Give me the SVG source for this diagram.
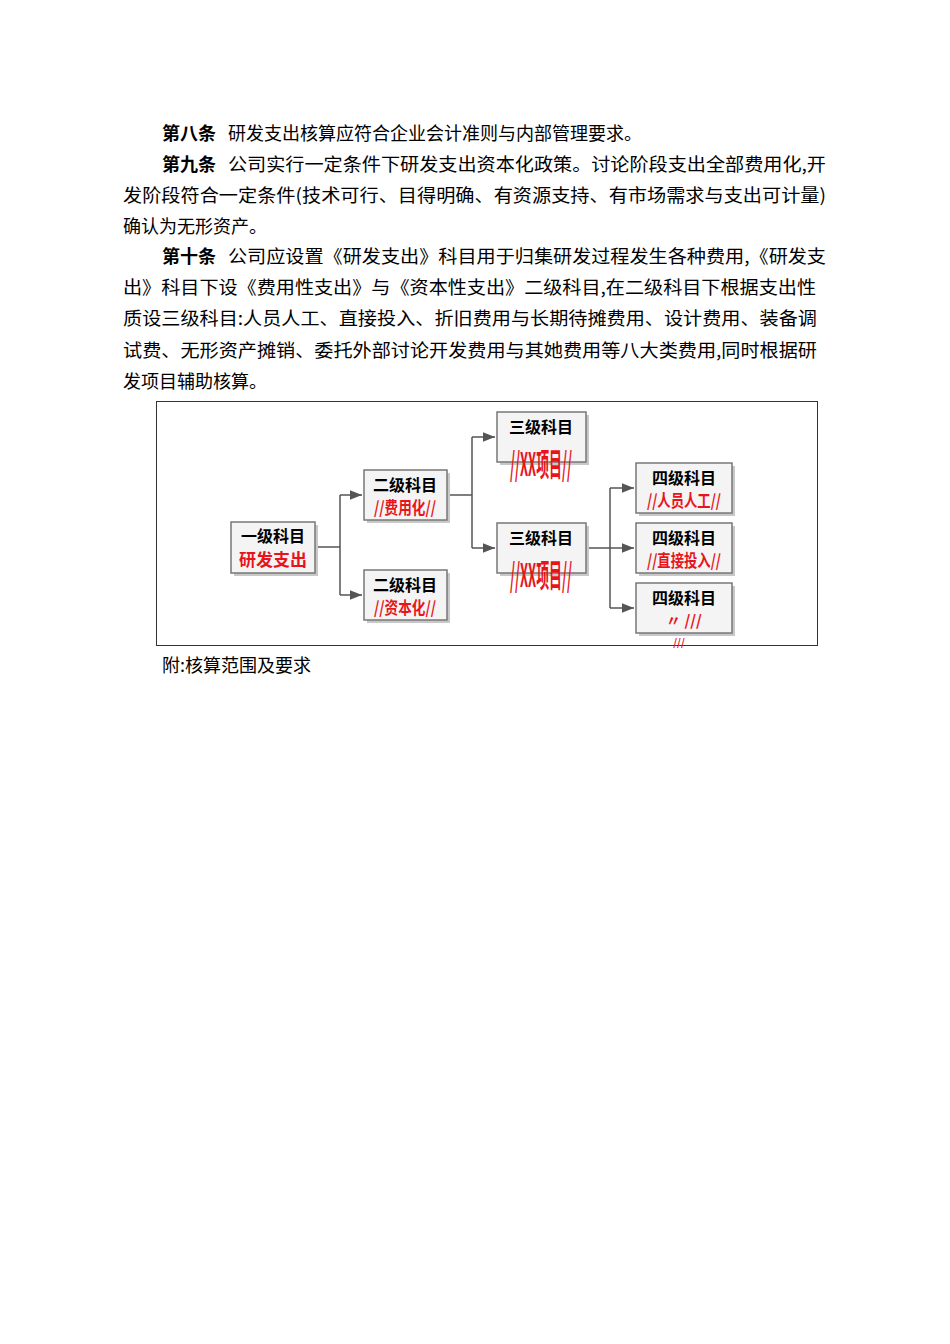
<svg xmlns="http://www.w3.org/2000/svg" width="950" height="1344" viewBox="0 0 950 1344">
<style>
.t{font-family:"Noto Sans CJK SC","Liberation Serif",serif;font-size:18px;fill:#000}
.b{font-weight:bold}
.box{fill:#f4f4f4;stroke:#777;stroke-width:1.5}
.sh{fill:#c8c8c8}
.k{font-family:"Noto Sans CJK SC",sans-serif;font-weight:bold;font-size:16px;fill:#000;text-anchor:middle}
.r{font-family:"Noto Sans CJK SC",sans-serif;font-weight:bold;font-size:17px;fill:#e8141b;text-anchor:middle}
.c{fill:none;stroke:#555;stroke-width:1.5}
</style>
<defs><marker id="a" viewBox="0 0 10 10" refX="10" refY="5" markerWidth="8" markerHeight="8" orient="auto"><path d="M0,1L10,5L0,9z" fill="#555"/></marker></defs>
<rect width="950" height="1344" fill="#fff"/>
<g id="text">
<text class="t" y="140"><tspan x="162" class="b">第八条</tspan><tspan x="228">研发支出核算应符合企业会计准则与内部管理要求。</tspan></text>
<text class="t" y="171"><tspan x="162" class="b">第九条</tspan><tspan x="228" textLength="598" lengthAdjust="spacingAndGlyphs">公司实行一定条件下研发支出资本化政策。讨论阶段支出全部费用化,开</tspan></text>
<text class="t" x="123" y="202" textLength="703" lengthAdjust="spacingAndGlyphs">发阶段符合一定条件(技术可行、目得明确、有资源支持、有市场需求与支出可计量)</text>
<text class="t" x="123" y="233">确认为无形资产。</text>
<text class="t" y="263"><tspan x="162" class="b">第十条</tspan><tspan x="228" textLength="598" lengthAdjust="spacingAndGlyphs">公司应设置《研发支出》科目用于归集研发过程发生各种费用,《研发支</tspan></text>
<text class="t" x="123" y="294" textLength="693" lengthAdjust="spacingAndGlyphs">出》科目下设《费用性支出》与《资本性支出》二级科目,在二级科目下根据支出性</text>
<text class="t" x="123" y="325" textLength="694" lengthAdjust="spacingAndGlyphs">质设三级科目:人员人工、直接投入、折旧费用与长期待摊费用、设计费用、装备调</text>
<text class="t" x="123" y="357" textLength="694" lengthAdjust="spacingAndGlyphs">试费、无形资产摊销、委托外部讨论开发费用与其她费用等八大类费用,同时根据研</text>
<text class="t" x="123" y="388">发项目辅助核算。</text>
<text class="t" x="162" y="672">附:核算范围及要求</text>
</g>
<rect x="156.5" y="401.5" width="661" height="244" fill="none" stroke="#333" stroke-width="1"/>
<g id="connectors">
<path class="c" d="M315,547H340M340,495V595"/>
<path class="c" d="M340,495H362" marker-end="url(#a)"/><path class="c" d="M340,595H362" marker-end="url(#a)"/>
<path class="c" d="M447,495H472M472,437V548"/>
<path class="c" d="M472,437H495" marker-end="url(#a)"/><path class="c" d="M472,548H495" marker-end="url(#a)"/>
<path class="c" d="M586,548H610M610,488V608"/>
<path class="c" d="M610,488H634" marker-end="url(#a)"/><path class="c" d="M610,548H634" marker-end="url(#a)"/><path class="c" d="M610,608H634" marker-end="url(#a)"/>
</g>
<g id="n1"><rect class="sh" x="234" y="525" width="84" height="51"/><rect class="box" x="231" y="522" width="84" height="51"/><text class="k" x="273" y="542">一级科目</text><text class="r" x="273" y="566">研发支出</text></g>
<g id="n2"><rect class="sh" x="367" y="473" width="83" height="50"/><rect class="box" x="364" y="470" width="83" height="50"/><text class="k" x="405" y="491">二级科目</text><text class="r" x="405" y="514" textLength="62" lengthAdjust="spacingAndGlyphs">//费用化//</text></g>
<g id="n3"><rect class="sh" x="367" y="573" width="83" height="50"/><rect class="box" x="364" y="570" width="83" height="50"/><text class="k" x="405" y="591">二级科目</text><text class="r" x="405" y="614" textLength="62" lengthAdjust="spacingAndGlyphs">//资本化//</text></g>
<g id="n4"><rect class="sh" x="500" y="415" width="89" height="50"/><rect class="box" x="497" y="412" width="89" height="50"/><text class="k" x="541" y="433">三级科目</text><text class="r" transform="translate(541 476) scale(1 1.7)" x="0" y="0" style="font-size:19px" textLength="62" lengthAdjust="spacingAndGlyphs">//XX项目//</text></g>
<g id="n5"><rect class="sh" x="500" y="526" width="89" height="50"/><rect class="box" x="497" y="523" width="89" height="50"/><text class="k" x="541" y="544">三级科目</text><text class="r" transform="translate(541 587) scale(1 1.7)" x="0" y="0" style="font-size:19px" textLength="62" lengthAdjust="spacingAndGlyphs">//XX项目//</text></g>
<g id="n6"><rect class="sh" x="639" y="466" width="96" height="50"/><rect class="box" x="636" y="463" width="96" height="50"/><text class="k" x="684" y="484">四级科目</text><text class="r" x="684" y="507" textLength="74" lengthAdjust="spacingAndGlyphs">//人员人工//</text></g>
<g id="n7"><rect class="sh" x="639" y="526" width="96" height="50"/><rect class="box" x="636" y="523" width="96" height="50"/><text class="k" x="684" y="544">四级科目</text><text class="r" x="684" y="567" textLength="74" lengthAdjust="spacingAndGlyphs">//直接投入//</text></g>
<g id="n8"><rect class="sh" x="639" y="586" width="96" height="50"/><rect class="box" x="636" y="583" width="96" height="50"/><text class="k" x="684" y="604">四级科目</text><text class="r" x="684" y="626" style="font-size:15px">〃  ///</text><text class="r" x="679" y="646" style="font-size:10px">///</text></g>
</svg>
